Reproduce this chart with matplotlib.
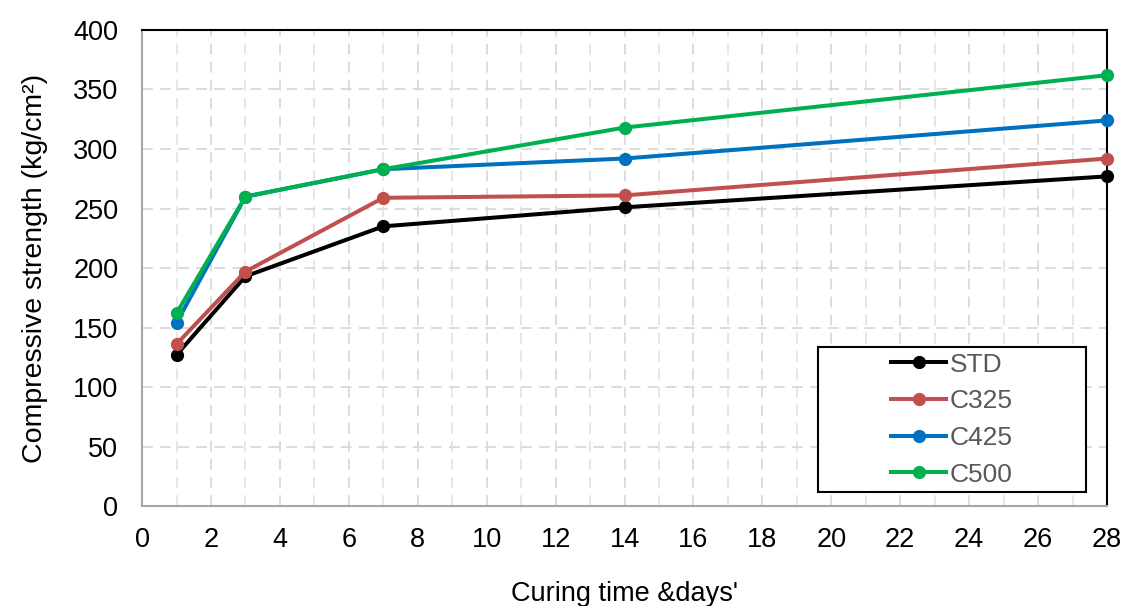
import matplotlib
matplotlib.use("Agg")
import matplotlib.pyplot as plt
from matplotlib.ticker import MultipleLocator
from matplotlib.patches import Rectangle

plt.rcParams['font.family'] = ['Liberation Sans', 'DejaVu Sans']

days = [1, 3, 7, 14, 28]
std = [127, 193, 235, 251, 277]
c325 = [136, 197, 259, 261, 292]
c425 = [154, 260, 283, 292, 324]
c500 = [162, 260, 283, 318, 362]
series_names = ["STD", "C325", "C425", "C500"]
colors = ["#000000", "#C0504D", "#0070C0", "#00B050"]

fig = plt.figure(figsize=(11.22, 6.06), dpi=100)
ax = fig.add_axes([0.1266, 0.165, 0.86, 0.7855])

for vals, name, col in zip([std, c325, c425, c500], series_names, colors):
    ax.plot(days, vals, color=col, lw=2.9, marker='o', markersize=8.5,
            label=name, clip_on=False, zorder=3)

ax.set_xlim(0, 28)
ax.set_ylim(0, 400)
ax.xaxis.set_major_locator(MultipleLocator(2))
ax.xaxis.set_minor_locator(MultipleLocator(1))
ax.yaxis.set_major_locator(MultipleLocator(50))
ax.grid(True, which='major', color='#D9D9D9', ls=(0, (6, 4)), lw=1.3)
ax.grid(True, which='minor', axis='x', color='#E4E4E4', ls=(0, (6, 4)), lw=1.3)
ax.set_axisbelow(True)

ax.tick_params(which='both', length=0, labelsize=19.5, colors='black')
ax.tick_params(axis='y', pad=17)
ax.tick_params(axis='x', pad=15)
for s in ['left', 'bottom']:
    ax.spines[s].set_color('#A6A6A6')
    ax.spines[s].set_linewidth(1.5)
for s in ['top', 'right']:
    ax.spines[s].set_color('#000000')
    ax.spines[s].set_linewidth(1.5)

ax.set_ylabel("Compressive strength (kg/cm²)", fontsize=20.5, labelpad=18)
ax.set_xlabel("Curing time &days'", fontsize=19.5, labelpad=20)

# legend box (Excel-style wide frame)
ax.add_patch(Rectangle((0.7005, 0.0294), 0.2777, 0.3046, transform=ax.transAxes,
                       facecolor='white', edgecolor='black', lw=1.5, zorder=4))
leg = ax.legend(loc='center', bbox_to_anchor=(0.8394, 0.1817), fontsize=19,
                numpoints=1, handlelength=2.05, frameon=False,
                borderpad=0, labelspacing=0.48, handletextpad=0.15,
                borderaxespad=0)
leg.set_zorder(5)
for t in leg.get_texts():
    t.set_color('#595959')

fig.savefig("out.png", dpi=100)
